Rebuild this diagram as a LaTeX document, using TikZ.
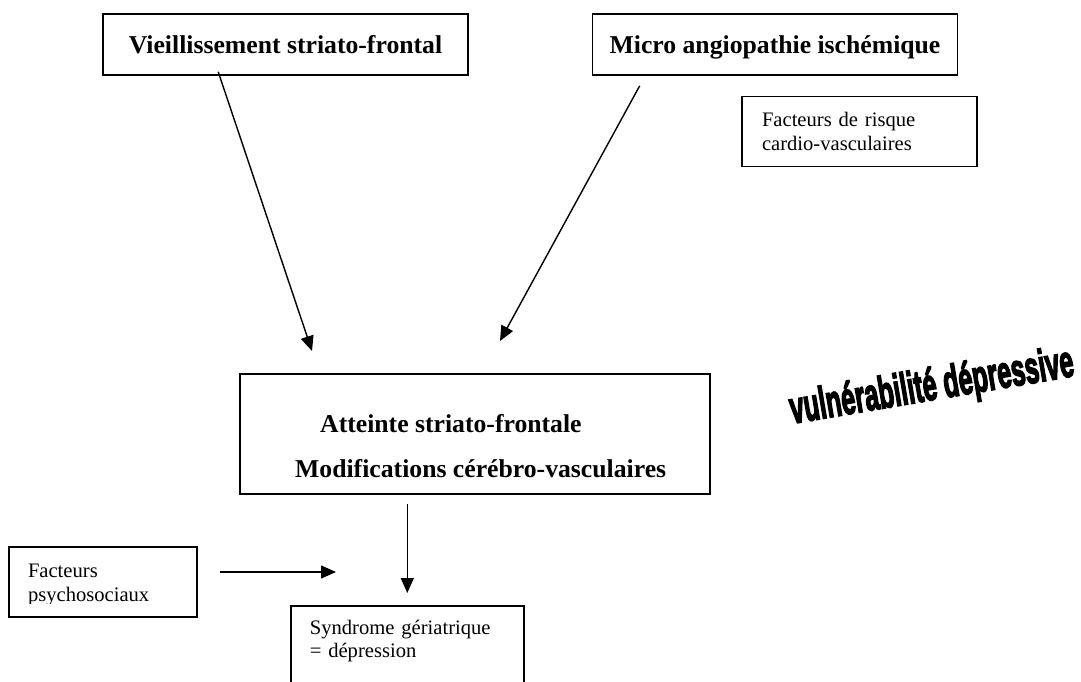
\documentclass[tikz,border=0pt]{standalone}
\usepackage{fontspec}
\setmainfont{Liberation Serif}
\newfontfamily\wordfont[FakeBold=4]{Liberation Sans}
\usetikzlibrary{arrows.meta,calc}

\begin{document}
\begin{tikzpicture}[x=1pt, y=-1pt,
    boldbox/.style={draw, line width=1.6pt, minimum width=365pt, minimum height=61pt, text depth=0pt, font=\fontsize{25.7}{29.5}\selectfont\bfseries},
    thinbox/.style={draw, line width=1.6pt, inner xsep=19pt, align=left, font=\fontsize{20.6}{23.7}\selectfont},
    boldtxt/.style={anchor=base west, inner sep=0pt, font=\fontsize{25.7}{29.5}\selectfont\bfseries},
    arr/.style={line width=1.4pt, -{Triangle[length=15pt, width=13pt]}}]

    \useasboundingbox (0,0) rectangle (1081,682);
    \clip (0,0) rectangle (1081,682);

    % Top boxes
    \node[boldbox] (vieil) at (285.5,44.5) {Vieillissement striato-frontal};
    \node[boldbox] (micro) at (775,44.5) {Micro angiopathie ischémique};
    \node[thinbox, text width=195pt, inner xsep=20pt, minimum height=70pt] (risque) at (859.5,131.5) {Facteurs de risque\\cardio-vasculaires};

    % Central box
    \node[draw, line width=1.6pt, minimum width=470pt, minimum height=120pt] (central) at (475,434) {};
    \node[boldtxt] (atteinte) at (320,432) {Atteinte striato-frontale};
    \node[boldtxt] (modif) at (295,477) {Modifications cérébro-vasculaires};

    % Word art on the right
    \node[transform shape, rotate=9.6, xscale=0.84, yscale=1.5, font=\wordfont\bfseries\fontsize{30}{30}\selectfont] (vuln) at (932,388) {vulnérabilité dépressive};

    % Bottom boxes
    \node[thinbox, text width=150pt, minimum height=70pt] (psycho) at (103,582) {};
    \begin{scope}
        \clip (psycho.north west) rectangle ($(psycho.east)+(0,21)$);
        \node[thinbox, draw=none, text width=150pt] (psychotxt) at ($(psycho)+(0,3)$) {Facteurs\\psychosociaux};
    \end{scope}
    \node[thinbox, anchor=north west, text width=195pt, inner ysep=14pt] (syndrome) at (290,605) {Syndrome gériatrique\\= dépression\\~};

    % Arrows
    \coordinate (tipA) at (312,351);
    \coordinate (tipB) at (500,341);
    \coordinate (tipC) at (336,572);
    \draw[arr] ($(vieil.south west)+(116,-4)$) -- (tipA);
    \draw[arr] ($(micro.south west)+(48,10)$) -- (tipB);
    \draw[arr, shorten <=9pt, shorten >=12pt] (central.south -| syndrome.north) -- (syndrome.north);
    \draw[arr, shorten <=22pt] (psycho.east |- tipC) -- (tipC);
\end{tikzpicture}
\end{document}
